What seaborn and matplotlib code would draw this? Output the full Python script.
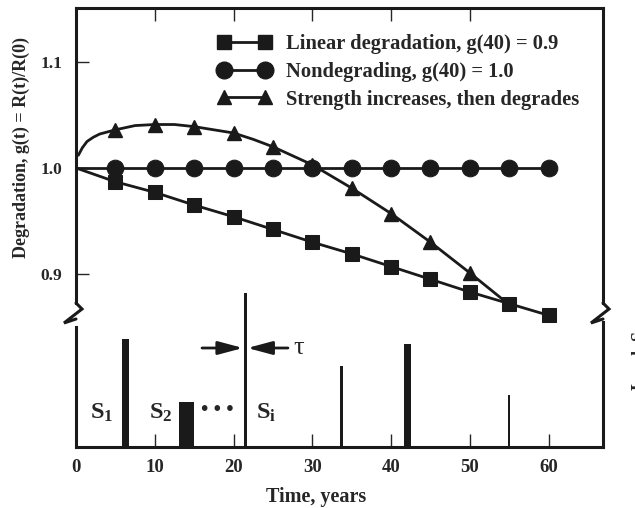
import matplotlib
matplotlib.use("Agg")
import matplotlib.pyplot as plt
from matplotlib.lines import Line2D
import seaborn as sns

sns.set_theme(style="ticks")
plt.rcParams["font.family"] = ["Liberation Serif", "DejaVu Serif"]
plt.rcParams["font.weight"] = "bold"
plt.rcParams["mathtext.fontset"] = "custom"
plt.rcParams["mathtext.rm"] = "Liberation Serif:bold"
plt.rcParams["mathtext.it"] = "Liberation Serif:italic:bold"
plt.rcParams["mathtext.default"] = "rm"

# --- data ---
years = [0, 5, 10, 15, 20, 25, 30, 35, 40, 45, 50, 55, 60]
g_linear = [1.0, 0.987, 0.977, 0.965, 0.954, 0.942, 0.930, 0.919, 0.907, 0.895, 0.883, 0.872, 0.861]
g_nondeg = [1.0, 1.0, 1.0, 1.0, 1.0, 1.0, 1.0, 1.0, 1.0, 1.0, 1.0, 1.0, 1.0]

# strength increases then degrades: curve and its marked points
tri_curve_t = [0.3, 0.8, 1.4, 2.2, 3.0, 4.0, 5, 7.5, 10, 12.5, 15, 17.5, 20, 22.5, 25, 30, 35,
               40, 45, 50, 55]
tri_curve_g = [1.012, 1.019, 1.025, 1.029, 1.032, 1.034, 1.036, 1.040, 1.041, 1.041, 1.039,
               1.036, 1.033, 1.027, 1.020, 1.003, 0.981, 0.957, 0.930, 0.901, 0.871]
tri_mark_t = [5, 10, 15, 20, 25, 30, 35, 40, 45, 50]
tri_mark_g = [1.036, 1.041, 1.039, 1.033, 1.020, 1.003, 0.981, 0.957, 0.930, 0.901]

# load events (time, magnitude, duration)
load_t = [6.3, 14.0, 21.5, 33.7, 42.1, 55.0]
load_s = [1.08, 0.45, 1.54, 0.81, 1.03, 0.52]
load_w = [0.95, 1.9, 0.42, 0.3, 0.85, 0.25]

legend_labels = ["Linear degradation, g(40) = 0.9",
                 "Nondegrading, g(40) = 1.0",
                 "Strength increases, then degrades"]

W, H = 635, 508
fig = plt.figure(figsize=(W / 100, H / 100), dpi=100)
rect = [76 / W, 1 - 447 / H, (603 - 76) / W, (447 - 8) / H]
ax_top = fig.add_axes(rect, label="degradation")
ax_bot = fig.add_axes(rect, label="load")
ax_bot.patch.set_alpha(0)

xlim = (0, 66.9)
g_lo, g_hi = 0.7368, 1.1509
brk_top = 0.8726

# upper panel: degradation curves
sns.lineplot(x=tri_curve_t, y=tri_curve_g, ax=ax_top, color="k", lw=2, sort=False,
             estimator=None, zorder=2)
ax_top.plot(tri_mark_t, tri_mark_g, ls="none", marker="^", ms=10, color="k", zorder=2)
sns.lineplot(x=years, y=g_nondeg, ax=ax_top, color="k", lw=2, marker="o", ms=12,
             markevery=slice(1, None), mec="k", estimator=None, zorder=3)
sns.lineplot(x=years, y=g_linear, ax=ax_top, color="k", lw=2, marker="s", ms=10.5,
             markevery=slice(1, None), mec="k", estimator=None, zorder=4)

ax_top.set_xlim(*xlim)
ax_top.set_ylim(g_lo, g_hi)
ax_top.set_yticks([0.9, 1.0, 1.1])
ax_top.set_yticklabels(["0.9", "1.0", "1.1"])
ax_top.set_xticks([10, 20, 30, 40, 50])
ax_top.tick_params(axis="y", direction="in", length=9.5, width=1, pad=10, labelsize=12.5,
                   left=True, right=False)
ax_top.tick_params(axis="x", direction="in", length=9.5, width=1, top=True, bottom=False,
                   labeltop=False, labelbottom=False)
ax_top.spines["bottom"].set_visible(False)
for s in ["left", "right", "top"]:
    ax_top.spines[s].set_linewidth(2.2)
    ax_top.spines[s].set_color("k")
ax_top.spines["left"].set_bounds(brk_top, g_hi)
ax_top.spines["right"].set_bounds(brk_top, g_hi)
ax_top.set_xlabel("")
ax_top.set_ylabel("")

handles = [
    Line2D([], [], color="k", lw=2, marker="s", ms=10.5),
    Line2D([], [], color="k", lw=2, marker="o", ms=12),
    Line2D([], [], color="k", lw=2, marker="^", ms=10),
]
ax_top.legend(handles, legend_labels, loc="upper left", bbox_to_anchor=(218 / W, 1 - 34 / H),
              bbox_transform=fig.transFigure, frameon=False, numpoints=2, handlelength=2.6,
              handletextpad=0.7, labelspacing=0.38, borderpad=0, borderaxespad=0,
              prop={"size": 14.8, "weight": "bold"})

# lower panel: load history
ax_bot.bar(load_t, load_s, width=load_w, color="k", edgecolor="none", zorder=3)
ax_bot.set_xlim(*xlim)
ax_bot.set_ylim(0, 4.39)
ax_bot.set_yticks([])
ax_bot.set_xticks([0, 10, 20, 30, 40, 50, 60])
ax_bot.set_xticklabels(["0", "10", "20", "30", "40", "50", "60"])
ax_bot.tick_params(axis="x", direction="in", length=9.5, width=1, pad=9, labelsize=13.5,
                   bottom=True, top=False)
ax_bot.spines["top"].set_visible(False)
for s in ["left", "right", "bottom"]:
    ax_bot.spines[s].set_linewidth(2.2)
    ax_bot.spines[s].set_color("k")
ax_bot.spines["left"].set_bounds(0, 1.20)
ax_bot.spines["right"].set_bounds(0, 1.25)

# tau arrows
arr = dict(arrowstyle="-|>,head_length=1.5,head_width=0.4", color="k", lw=2,
           shrinkA=0, shrinkB=0, mutation_scale=10)
ax_bot.annotate("", xy=(21.2, 0.99), xytext=(16.0, 0.99), arrowprops=arr)
ax_bot.annotate("", xy=(21.75, 0.99), xytext=(26.9, 0.99), arrowprops=arr)
ax_bot.text(28.3, 0.99, "\u03c4", fontsize=19, ha="center", va="center", fontweight="normal")

ax_bot.text(3.2, 0.34, "S$_1$", fontsize=17.5, ha="center", va="center")
ax_bot.text(10.7, 0.34, "S$_2$", fontsize=17.5, ha="center", va="center")
ax_bot.text(18.0, 0.37, "\u2022 \u2022 \u2022", fontsize=15, ha="center", va="center")
ax_bot.text(24.1, 0.34, "S$_\\mathrm{i}$", fontsize=17.5, ha="center", va="center")

# axis break marks
def px(x, y):
    return x / W, 1 - y / H

for xs in (76, 603):
    pts = [px(xs, 303), px(xs + 6, 309), px(xs - 12, 323), px(xs, 319)]
    fig.add_artist(Line2D([p[0] for p in pts], [p[1] for p in pts], color="k", lw=2.2,
                          solid_joinstyle="miter"))

fig.text(21 / W, 1 - 148 / H, "Degradation, g(t) = R(t)/R(0)", rotation=90, ha="center",
         va="center", fontsize=13)
fig.text(316 / W, 1 - 497 / H, "Time, years", ha="center", va="center", fontsize=14.5)
fig.text(630 / W, 1 - 391 / H, "Load, S$_\\mathrm{i}$", rotation=90, ha="left", va="bottom",
         fontsize=13)

fig.savefig("out.png", dpi=100)
